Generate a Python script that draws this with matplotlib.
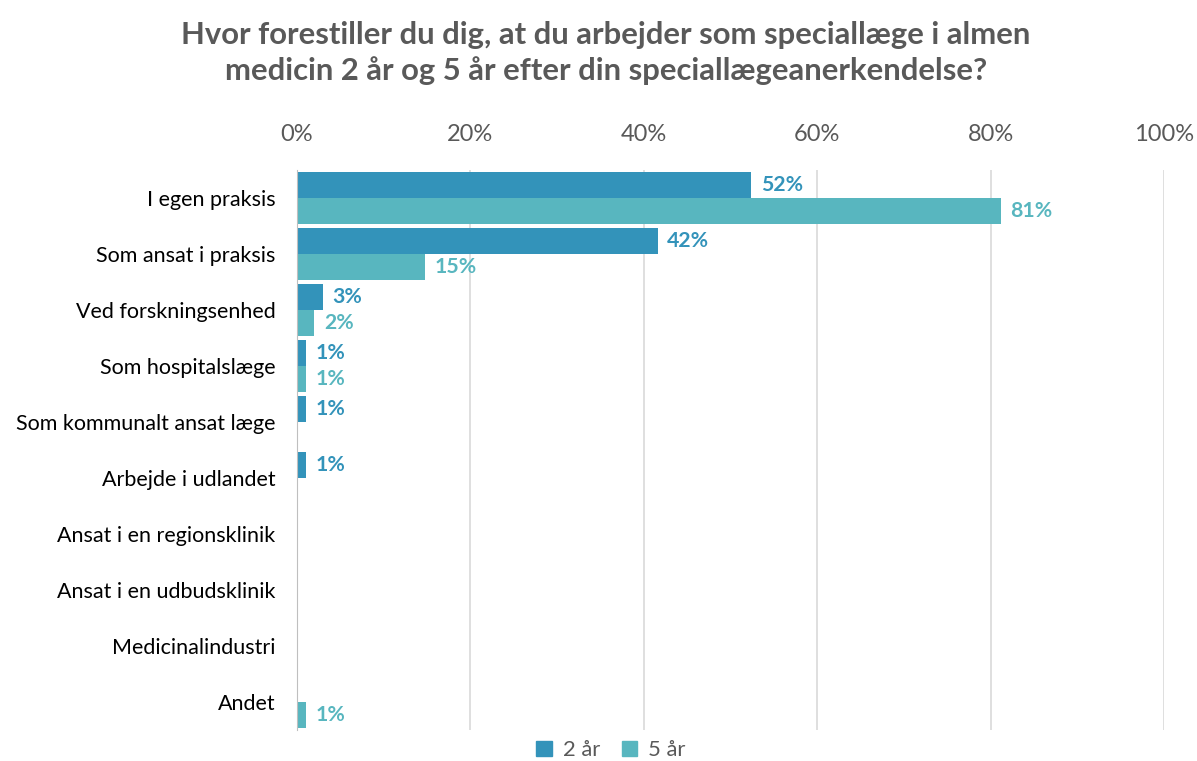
import numpy as np
import matplotlib.pyplot as plt
from matplotlib.patches import Patch

plt.rcParams['font.family'] = ['Lato', 'DejaVu Sans']

categories = ["I egen praksis", "Som ansat i praksis", "Ved forskningsenhed",
              "Som hospitalslæge", "Som kommunalt ansat læge", "Arbejde i udlandet",
              "Ansat i en regionsklinik", "Ansat i en udbudsklinik",
              "Medicinalindustri", "Andet"]
vals_2 = [52.4, 41.6, 3.0, 1.0, 1.0, 1.0, 0, 0, 0, 0]
vals_5 = [81.2, 14.8, 2.0, 1.0, 0, 0, 0, 0, 0, 1.0]
series = ["2 år", "5 år"]
colors = ["#3393BA", "#58B6BF"]

fig = plt.figure(figsize=(11.97, 7.61), dpi=100)
ax = fig.add_axes([297 / 1197, 31 / 761, 867 / 1197, 560 / 761])

y = np.arange(len(categories))
h = 0.464
for vals, off, col in [(vals_2, -h / 2, colors[0]), (vals_5, h / 2, colors[1])]:
    ax.barh(y + off, vals, height=h, color=col, zorder=3)
    for yi, v in zip(y, vals):
        if v > 0:
            ax.text(v + 1.1, yi + off, f"{v:.0f}%", va='center', ha='left',
                    fontsize=15.3, fontweight='bold', color=col)

ax.set_xlim(0, 100)
ax.set_ylim(len(categories) - 0.5, -0.5)
ax.set_yticks(y)
ax.set_yticklabels(categories, fontsize=15.5, color='#000000')
ax.set_xticks(np.arange(0, 101, 20))
ax.set_xticklabels([f"{t}%" for t in range(0, 101, 20)], fontsize=17, color='#595959')
ax.xaxis.tick_top()
ax.tick_params(axis='both', length=0)
ax.tick_params(axis='x', pad=18)
ax.tick_params(axis='y', pad=15.5)
ax.grid(axis='x', color='#D9D9D9', linewidth=1.2, zorder=0)
for s in ['top', 'right', 'bottom']:
    ax.spines[s].set_visible(False)
ax.spines['left'].set_color('#BFBFBF')
ax.spines['left'].set_zorder(4)

fig.text(606 / 1197, 1 - 53 / 761,
         "Hvor forestiller du dig, at du arbejder som speciallæge i almen\n"
         "medicin 2 år og 5 år efter din speciallægeanerkendelse?",
         ha='center', va='center', fontsize=22.3, fontweight='bold',
         color='#595959', linespacing=1.28)

handles = [Patch(color=c, label=s) for c, s in zip(colors, series)]
fig.legend(handles=handles, loc='center', bbox_to_anchor=(611 / 1197, 1 - 750 / 761),
           ncol=2, frameon=False, fontsize=15.8, handlelength=0.7, handleheight=0.7,
           handletextpad=0.5, columnspacing=1.0, labelcolor='#595959')

fig.savefig("out.png", dpi=100)
